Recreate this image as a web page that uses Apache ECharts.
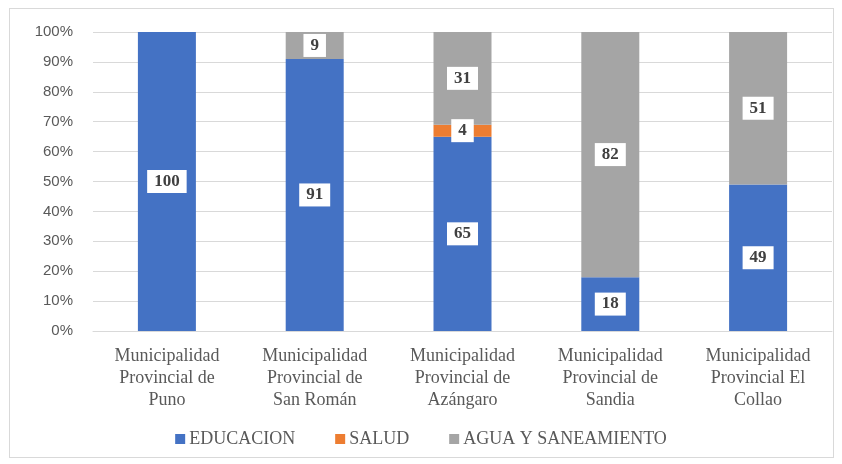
<!DOCTYPE html>
<html><head><meta charset="utf-8">
<script src="https://cdn.jsdelivr.net/npm/echarts@6/dist/echarts.min.js"></script>
<style>
html,body{margin:0;padding:0;background:#fff;}
#frame{position:absolute;left:9px;top:8px;width:825px;height:450px;border:1px solid #d9d9d9;box-sizing:border-box;}
#c{position:absolute;left:0;top:0;width:842px;height:464px;}
</style></head>
<body>
<div id="frame"></div>
<div id="c"></div>
<script>
const categories = [
  "Municipalidad\nProvincial de\nPuno",
  "Municipalidad\nProvincial de\nSan Román",
  "Municipalidad\nProvincial de\nAzángaro",
  "Municipalidad\nProvincial de\nSandia",
  "Municipalidad\nProvincial El\nCollao"
];
const educacion = [100, 91, 65, 18, 49];
const salud = [0, 0, 4, 0, 0];
const agua = [0, 9, 31, 82, 51];

const chart = echarts.init(document.getElementById('c'));
const serif = '"Liberation Serif","Times New Roman",serif';
const lbl = {
  show: true,
  position: 'inside',
  backgroundColor: '#fff',
  color: '#404040',
  fontFamily: serif,
  fontWeight: 'bold',
  fontSize: 17,
  padding: [4, 7, 2, 7]
};
function mk(name, data, color) {
  return {
    name, type: 'bar', stack: 't',
    data: data.map(v => v ? v : { value: v, label: { show: false } }),
    barWidth: 58,
    itemStyle: { color },
    label: lbl,
    emphasis: { disabled: true }
  };
}
chart.setOption({
  animation: false,
  grid: { left: 93, right: 10, top: 32, bottom: 133, containLabel: false },
  legend: {
    bottom: 11, left: 'center',
    itemWidth: 10, itemHeight: 10, itemGap: 40,
    icon: 'rect',
    textStyle: { fontFamily: serif, fontSize: 18, color: '#595959', padding: [0,0,0,-1] },
    data: ['EDUCACION', 'SALUD', 'AGUA Y SANEAMIENTO']
  },
  xAxis: {
    type: 'category', data: categories,
    axisLine: { lineStyle: { color: '#d9d9d9' } },
    axisTick: { show: false },
    axisLabel: { fontFamily: serif, fontSize: 18, color: '#595959', lineHeight: 22, margin: 14 }
  },
  yAxis: {
    type: 'value', min: 0, max: 100, interval: 10,
    axisLabel: { formatter: '{value}%', fontFamily: '"Liberation Sans",Arial,sans-serif', fontSize: 15, color: '#595959', margin: 20 },
    splitLine: { lineStyle: { color: '#d9d9d9', width: 1 } },
    axisLine: { show: false }, axisTick: { show: false }
  },
  series: [
    mk('EDUCACION', educacion, '#4472c4'),
    mk('SALUD', salud, '#ed7d31'),
    mk('AGUA Y SANEAMIENTO', agua, '#a5a5a5')
  ]
});
</script>
</body></html>
